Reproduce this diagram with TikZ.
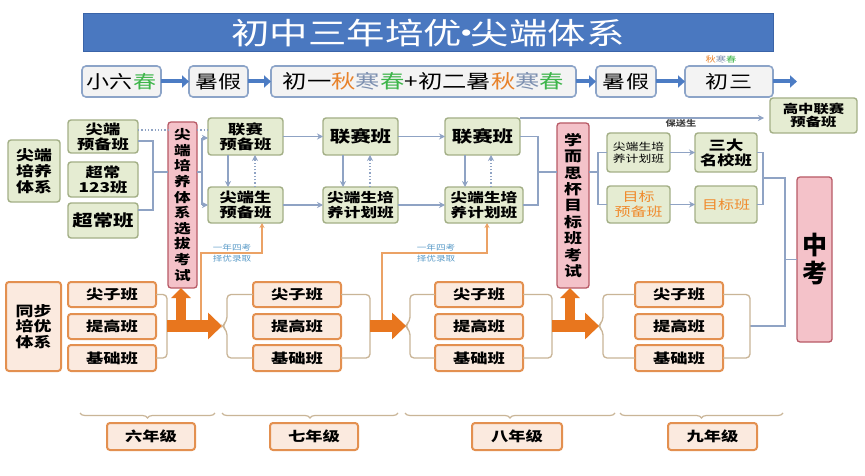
\documentclass[tikz,border=0pt]{standalone}
\usepackage{fontspec}
\setmainfont{Noto Sans CJK SC}[FakeStretch=1.28]
\newfontfamily\plaincjk{Noto Sans CJK SC}
\usetikzlibrary{arrows.meta,decorations.pathreplacing}
\definecolor{titleblue}{HTML}{4A78C0}
\definecolor{titleborder}{HTML}{3A64A8}
\definecolor{rowfill}{HTML}{F3F3F3}
\definecolor{rowborder}{HTML}{8CA4C8}
\definecolor{arrowblue}{HTML}{4C7CC4}
\definecolor{gfill}{HTML}{E5ECD2}
\definecolor{gborder}{HTML}{A3AF86}
\definecolor{pfill}{HTML}{F4C2C9}
\definecolor{pborder}{HTML}{B85A66}
\definecolor{ofill}{HTML}{FBEADF}
\definecolor{oborder}{HTML}{E39050}
\definecolor{cline}{HTML}{8FA3C4}
\definecolor{tanline}{HTML}{C9B597}
\definecolor{bigorange}{HTML}{E8761E}
\definecolor{thinorange}{HTML}{EBA265}
\definecolor{qiu}{HTML}{E8822A}
\definecolor{han}{HTML}{7D90B0}
\definecolor{chun}{HTML}{3DB54A}
\definecolor{mbtext}{HTML}{F08A2C}
\definecolor{labelblue}{HTML}{5A9BC8}
\newcommand{\fs}[2]{\fontsize{#1}{#2}\selectfont}
\newcommand{\bx}[7]{\node[#6,minimum width={(#4)-(#2)},minimum height={(#5)-(#3)}] (#1) at ({((#2)+(#4))/2},{((#3)+(#5))/2}) {#7};}
\begin{document}
\begin{tikzpicture}[x=1pt,y=-1pt,
  base/.style={inner sep=0pt,outer sep=0pt,align=center},
  titlebox/.style={base,fill=titleblue,draw=titleborder,line width=1pt,text=white,font=\fs{30}{32}},
  rowbox/.style={base,fill=rowfill,draw=rowborder,line width=1.6pt,rounded corners=4pt,font=\fs{18}{20}},
  gbox/.style={base,fill=gfill,draw=gborder,line width=1.4pt,rounded corners=3pt,font=\bfseries\fs{13.5}{15}},
  pbox/.style={base,fill=pfill,draw=pborder,line width=1.3pt,rounded corners=3pt,font=\bfseries\fs{13}{15.6}},
  obox/.style={base,fill=ofill,draw=oborder,line width=2pt,rounded corners=3pt,font=\bfseries\fs{13.5}{15.5}},
  rowarr/.style={draw=arrowblue,line width=4pt,-{Triangle[length=7pt,width=12pt]}},
  conn/.style={draw=cline,line width=1.3pt},
  conna/.style={conn,-{Stealth[length=6pt,width=6pt]}},
  dotconn/.style={draw=cline,line width=1.3pt,dotted,-{Stealth[length=6pt,width=6pt]}},
  dotplain/.style={draw=cline,line width=1.3pt,dotted},
  bline/.style={draw=tanline,line width=1.3pt,rounded corners=4pt},
  bigarr/.style={draw=bigorange,line width=12pt,-{Triangle[length=14pt,width=26pt]}},
  uparr/.style={draw=bigorange,line width=10pt,-{Triangle[length=10pt,width=19pt]}},
  tline/.style={draw=thinorange,line width=1.3pt,-{Stealth[length=5pt,width=5pt]}},
  lbl/.style={inner sep=0pt,text=labelblue,font=\fs{7.5}{8}},
  bracebar/.style={draw=tanline,line width=1.2pt,decorate,decoration={brace,amplitude=5pt}}]
\fill[white] (0,0) rectangle (865,476);
\useasboundingbox (0,0) rectangle (865,476);
% title
\bx{title}{83}{14}{773}{52}{titlebox}{初中三年培优\makebox[9pt]{·}尖端体系}
% row 2
\bx{r1}{82}{66}{161}{97}{rowbox}{小六\textcolor{chun}{春}}
\bx{r2}{189}{66}{248}{97}{rowbox}{暑假}
\bx{r3}{271}{66}{576}{97}{rowbox,font=\fs{19}{20}}{初一\textcolor{qiu}{秋}\textcolor{han}{寒}\textcolor{chun}{春}+初二暑\textcolor{qiu}{秋}\textcolor{han}{寒}\textcolor{chun}{春}}
\bx{r4}{596}{66}{656}{97}{rowbox}{暑假}
\bx{r5}{685}{66}{773}{97}{rowbox}{初三}
\node[inner sep=0pt,font=\fs{8}{9}] (qhc) at (721,59) {\textcolor{qiu}{秋}\textcolor{han}{寒}\textcolor{chun}{春}};
\coordinate (rend) at (797,81.5);
\draw[rowarr] (r1.east) -- (r2.west);
\draw[rowarr] (r2.east) -- (r3.west);
\draw[rowarr] (r3.east) -- (r4.west);
\draw[rowarr] (r4.east) -- (r5.west);
\draw[rowarr] (r5.east) -- (rend);
% upper left
\bx{tjtx}{8}{140}{60}{202}{gbox,font=\bfseries\fs{14}{16}}{尖端\\培养\\体系}
\bx{jbyb}{68}{120}{138}{153}{gbox}{尖端\\预备班}
\bx{cc}{68}{162}{138}{197}{gbox}{超常\\123班}
\bx{ccb}{68}{203}{138}{238}{gbox,font=\bfseries\fs{16}{18}}{超常班}
\bx{exam1}{168}{122}{197}{288}{pbox}{尖\\端\\培\\养\\体\\系\\选\\拔\\考\\试}
\bx{lsyb}{208}{118}{283}{155}{gbox}{联赛\\预备班}
\bx{jdsyb}{208}{187}{283}{223}{gbox}{尖端生\\预备班}
\bx{lsb2}{323}{118}{398}{155}{gbox,font=\bfseries\fs{16}{18}}{联赛班}
\bx{jdpy2}{323}{187}{398}{223}{gbox,font=\bfseries\fs{13}{15}}{尖端生培\\养计划班}
\bx{lsb3}{445}{118}{520}{155}{gbox,font=\bfseries\fs{16}{18}}{联赛班}
\bx{jdpy3}{445}{187}{523}{223}{gbox,font=\bfseries\fs{13}{15}}{尖端生培\\养计划班}
\bx{exam2}{557}{123}{589}{288}{pbox,font=\bfseries\fs{14}{16.4}}{学\\而\\思\\杯\\目\\标\\班\\考\\试}
\bx{jdpy4}{607}{133}{670}{172}{gbox,font=\fs{10}{12.5}}{尖端生培\\养计划班}
\bx{mbyb}{607}{186}{670}{223}{gbox,font=\fs{12.5}{14.5},text=mbtext}{目标\\预备班}
\bx{sdmx}{695}{133}{757}{172}{gbox}{三大\\名校班}
\bx{mbb}{695}{186}{757}{223}{gbox,font=\fs{12.5}{14.5},text=mbtext}{目标班}
\bx{gzls}{770}{98}{857}{133}{gbox,font=\bfseries\fs{12}{13.5}}{高中联赛\\预备班}
\bx{zk}{797}{177}{832}{342}{pbox,font=\plaincjk\bfseries\fs{25}{28}}{中\\考}
% upper connectors
\draw[dotplain] (jbyb.east |- 0,130) -- (exam1.west |- 0,130);
\draw[dotplain] (exam1.east |- 0,130) -- (lsyb.west |- 0,130);
\draw[conn] (jbyb.east |- 0,141) -- (153,141) -- (153,210) -- (ccb.east |- 0,210);
\draw[conn] (153,172) -- (exam1.west |- 0,172);
\draw[conn] (exam1.east |- 0,172) -- (202,172);
\draw[conn] (202,138) -- (202,205);
\draw[conna] (202,138) -- (lsyb.west |- 0,138);
\draw[conna] (202,205) -- (jdsyb.west);
\draw[conna] (lsyb) -- (lsb2);
\draw[conna] (jdsyb) -- (jdpy2);
\draw[conna] (lsb2) -- (lsb3);
\draw[conna] (jdpy2) -- (jdpy3);
\draw[conna] ([xshift=20pt]lsyb.south west) -- ([xshift=20pt]jdsyb.north west);
\draw[dotconn] ([xshift=47pt]jdsyb.north west) -- ([xshift=47pt]lsyb.south west);
\draw[conna] ([xshift=20pt]lsb2.south west) -- ([xshift=20pt]jdpy2.north west);
\draw[dotconn] ([xshift=47pt]jdpy2.north west) -- ([xshift=47pt]lsb2.south west);
\draw[conna] ([xshift=20pt]lsb3.south west) -- ([xshift=20pt]jdpy3.north west);
\draw[dotconn] ([xshift=46pt]jdpy3.north west) -- ([xshift=46pt]lsb3.south west);
\draw[conn] (lsb3.east) -- (538,136.5) -- (538,205) -- (jdpy3.east);
\draw[conn] (538,172) -- (exam2.west |- 0,172);
\coordinate (bsend) at (764,118);
\draw[conna] (lsb3.north east) -- (bsend);
\node[inner sep=0pt,font=\bfseries\fs{8}{9},text=black!75] (bs) at (681,124) {保送生};
\draw[conn] (exam2.east |- 0,172) -- (598,172);
\draw[conn] (598,152.5) -- (598,204.5);
\draw[conn] (598,152.5) -- (jdpy4.west);
\draw[conn] (598,204.5) -- (mbyb.west);
\draw[conna] (jdpy4) -- (sdmx);
\draw[conna] (mbyb) -- (mbb);
\draw[conn] (sdmx.east) -- (763,152.5) -- (763,204.5) -- (mbb.east);
\draw[conn] (763,178) -- (785,178) -- (785,326) -- (750,326);
\draw[conn] (785,259.5) -- (zk.west);
% lower
\bx{tbpy}{6}{282}{61}{371}{obox,font=\bfseries\fs{14}{15.5}}{同步\\培优\\体系}
\bx{g1a}{68}{282}{156}{307}{obox}{尖子班}
\bx{g1b}{68}{314}{156}{339}{obox}{提高班}
\bx{g1c}{68}{345}{156}{371}{obox}{基础班}
\bx{g2a}{253}{282}{341}{307}{obox}{尖子班}
\bx{g2b}{253}{314}{341}{339}{obox}{提高班}
\bx{g2c}{253}{345}{341}{371}{obox}{基础班}
\bx{g3a}{435}{282}{523}{307}{obox}{尖子班}
\bx{g3b}{435}{314}{523}{339}{obox}{提高班}
\bx{g3c}{435}{345}{523}{371}{obox}{基础班}
\bx{g4a}{635}{282}{723}{307}{obox}{尖子班}
\bx{g4b}{635}{314}{723}{339}{obox}{提高班}
\bx{g4c}{635}{345}{723}{371}{obox}{基础班}
\draw[bline] (g1a.east) -- (167,294.5) -- (167,358) -- (g1c.east);
\draw[bline] (g2a.west) -- (227,294.5) -- (227,321) -- (222,326) -- (227,331) -- (227,358) -- (g2c.west);
\draw[bline] (g2a.east) -- (370,294.5) -- (370,358) -- (g2c.east);
\draw[bline] (g3a.west) -- (410,294.5) -- (410,321) -- (405,326) -- (410,331) -- (410,358) -- (g3c.west);
\draw[bline] (g3a.east) -- (552,294.5) -- (552,358) -- (g3c.east);
\draw[bline] (g4a.west) -- (603,294.5) -- (603,321) -- (598,326) -- (603,331) -- (603,358) -- (g4c.west);
\draw[bline] (g4a.east) -- (750,294.5) -- (750,358) -- (g4c.east);
% thin orange
\draw[tline] (201,320) -- (201,253) -- (262,253) -- (jdsyb.south -| 262,0);
\draw[tline] (382,320) -- (382,253) -- (487,253) -- (jdpy3.south -| 487,0);
\node[lbl] (l1a) at (232,248) {一年四考};
\node[lbl] (l1b) at (232,259) {择优录取};
\node[lbl] (l2a) at (436,248) {一年四考};
\node[lbl] (l2b) at (436,259) {择优录取};
% big arrows
\draw[bigarr] (167,326) -- (222,326);
\draw[uparr] (181,332) -- (exam1.south -| 181,0);
\draw[bigarr] (370,326) -- (406,326);
\draw[bigarr] (552,326) -- (599,326);
\draw[uparr] (570,332) -- (exam2.south -| 570,0);
% grades
\draw[bracebar] (215,413) -- (80,413);
\draw[bracebar] (398,413) -- (222,413);
\draw[bracebar] (615,413) -- (405,413);
\draw[bracebar] (783,413) -- (620,413);
\bx{y6}{107}{423}{195}{450}{obox}{六年级}
\bx{y7}{270}{423}{358}{450}{obox}{七年级}
\bx{y8}{472}{423}{562}{450}{obox}{八年级}
\bx{y9}{668}{423}{757}{450}{obox}{九年级}
\end{tikzpicture}
\end{document}
